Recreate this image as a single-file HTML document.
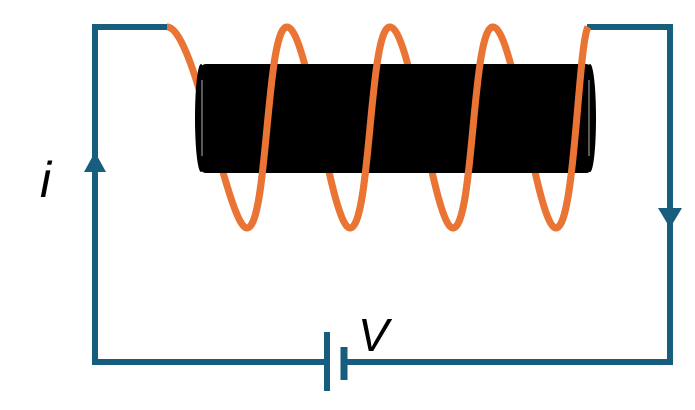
<!DOCTYPE html>
<html><head><style>body{margin:0;background:#fff}svg{display:block}</style></head><body>
<svg width="695" height="410" viewBox="0 0 695 410" xmlns="http://www.w3.org/2000/svg">
<g stroke="#175E7E" stroke-width="6" fill="none">
<polyline points="168,27 95,27 95,362 327,362"/>
<polyline points="587,27 670,27 670,362 346,362"/>
<line x1="327" y1="332" x2="327" y2="391"/>
<line x1="344" y1="347" x2="344" y2="380" stroke-width="7"/>
</g>
<polygon points="95,152 84,172 106,172" fill="#175E7E"/>
<polygon points="670,228 658,208 682,208" fill="#175E7E"/>
<g stroke="#EA7434" stroke-width="7" fill="none" stroke-linecap="butt">
<path d="M167 27 C195 27,228 228,247 228 C268 228,266 27,287 27 C308 27,331 228,350 228 C371 228,369 27,390 27 C411 27,434 228,453 228 C474 228,472 27,493 27 C514 27,537 228,556 228 C575 228,578 45,588 27"/>
</g>
<rect x="200" y="64" width="392" height="109" rx="6" fill="#000"/>
<ellipse cx="201" cy="118" rx="6" ry="54" fill="#000"/>
<ellipse cx="590" cy="118" rx="6" ry="54" fill="#000"/>
<line x1="202" y1="80" x2="202" y2="156" stroke="#777" stroke-width="1.5"/>
<line x1="589" y1="80" x2="589" y2="156" stroke="#777" stroke-width="1.5"/>
<g stroke="#EA7434" stroke-width="7" fill="none">
<path d="M247 228 C268 228,266 27,287 27"/>
<path d="M350 228 C371 228,369 27,390 27"/>
<path d="M453 228 C474 228,472 27,493 27"/>
<path d="M556 228 C575 228,578 45,588 27"/>
</g>
<text x="40" y="197" font-family="Liberation Sans, sans-serif" font-style="italic" font-size="50">i</text>
<text x="358" y="351" font-family="Liberation Sans, sans-serif" font-style="italic" font-size="46">V</text>
</svg>
</body></html>
